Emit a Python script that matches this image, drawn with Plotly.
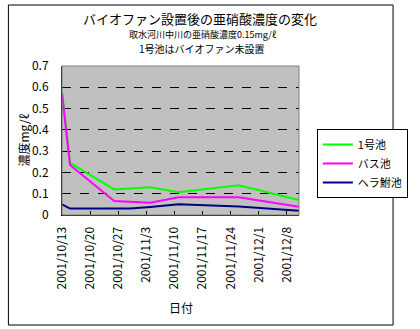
import plotly.graph_objects as go

dates = ["2001-10-13", "2001-10-15", "2001-10-26", "2001-10-30",
         "2001-11-04", "2001-11-11", "2001-11-26", "2001-12-11"]
pond1 = [0.58, 0.245, 0.12, 0.123, 0.13, 0.107, 0.14, 0.07]
bass = [0.57, 0.235, 0.066, 0.063, 0.058, 0.083, 0.083, 0.039]
hera = [0.05, 0.030, 0.031, 0.031, 0.038, 0.050, 0.040, 0.020]

tick_dates = ["2001-10-13", "2001-10-20", "2001-10-27", "2001-11-03", "2001-11-10",
              "2001-11-17", "2001-11-24", "2001-12-01", "2001-12-08"]
tick_text = ["2001/10/13", "2001/10/20", "2001/10/27", "2001/11/3", "2001/11/10",
             "2001/11/17", "2001/11/24", "2001/12/1", "2001/12/8"]
y_ticks = [0, 0.1, 0.2, 0.3, 0.4, 0.5, 0.6, 0.7]
y_text = ["0", "0.1", "0.2", "0.3", "0.4", "0.5", "0.6", "0.7"]

FONT = "MS PGothic, Noto Sans CJK JP, sans-serif"

fig = go.Figure()
fig.add_trace(go.Scatter(x=dates, y=pond1, mode="lines", name="1号池",
                         line=dict(color="#00FF00", width=2)))
fig.add_trace(go.Scatter(x=dates, y=bass, mode="lines", name="バス池",
                         line=dict(color="#FF00FF", width=2)))
fig.add_trace(go.Scatter(x=dates, y=hera, mode="lines", name="ヘラ鮒池",
                         line=dict(color="#000080", width=2)))

L, R, T, B = 62, 106, 66, 114
W, H = 420, 329
pw, ph = W - L - R, H - T - B

def px(x):
    return (x - L) / pw

def py(y):
    return (H - B - y) / ph

fig.update_layout(
    width=W, height=H,
    margin=dict(l=L, r=R, t=T, b=B),
    paper_bgcolor="white", plot_bgcolor="#C0C0C0",
    font=dict(family=FONT, size=12, color="black"),
    showlegend=True,
    legend=dict(x=px(333), y=py(129), xanchor="left", yanchor="top",
                bordercolor="black", borderwidth=1, bgcolor="white",
                font=dict(size=11), itemwidth=30, tracegroupgap=0),
    xaxis=dict(type="date", range=["2001-10-13", "2001-12-11"],
               tickvals=tick_dates, ticktext=tick_text, tickangle=-90,
               ticks="inside", ticklen=4, tickcolor="black",
               showgrid=False, zeroline=False,
               showline=True, linecolor="black", linewidth=1,
               ticklabelstandoff=6, tickfont=dict(size=12)),
    yaxis=dict(range=[0, 0.7], tickvals=y_ticks, ticktext=y_text,
               showgrid=True, gridcolor="black", griddash="dash", gridwidth=1,
               zeroline=False, showline=True, linecolor="black", linewidth=1,
               ticks="", ticklabelstandoff=10, tickfont=dict(size=12)),
    shapes=[
        dict(type="rect", xref="paper", yref="paper", x0=0, x1=1, y0=0, y1=1,
             line=dict(color="#808080", width=1)),
        dict(type="rect", xref="paper", yref="paper",
             x0=px(5), x1=px(414), y0=py(325), y1=py(5),
             line=dict(color="black", width=1)),
    ],
    annotations=[
        dict(text="バイオファン設置後の亜硝酸濃度の変化", xref="paper", yref="paper",
             x=px(209), y=py(18), showarrow=False, font=dict(size=13),
             xanchor="center", yanchor="middle"),
        dict(text="取水河川中川の亜硝酸濃度0.15mg/ℓ", xref="paper", yref="paper",
             x=px(212), y=py(34.3), showarrow=False, font=dict(size=9),
             xanchor="center", yanchor="middle"),
        dict(text="1号池はバイオファン未設置", xref="paper", yref="paper",
             x=px(211), y=py(48.3), showarrow=False, font=dict(size=10),
             xanchor="center", yanchor="middle"),
        dict(text="濃度mg/ℓ", xref="paper", yref="paper",
             x=px(20), y=py(140), showarrow=False, font=dict(size=12),
             textangle=-90, xanchor="center", yanchor="middle"),
        dict(text="日付", xref="paper", yref="paper",
             x=px(188), y=py(307), showarrow=False, font=dict(size=12),
             xanchor="center", yanchor="middle"),
    ],
)

fig.write_html("out.html")
